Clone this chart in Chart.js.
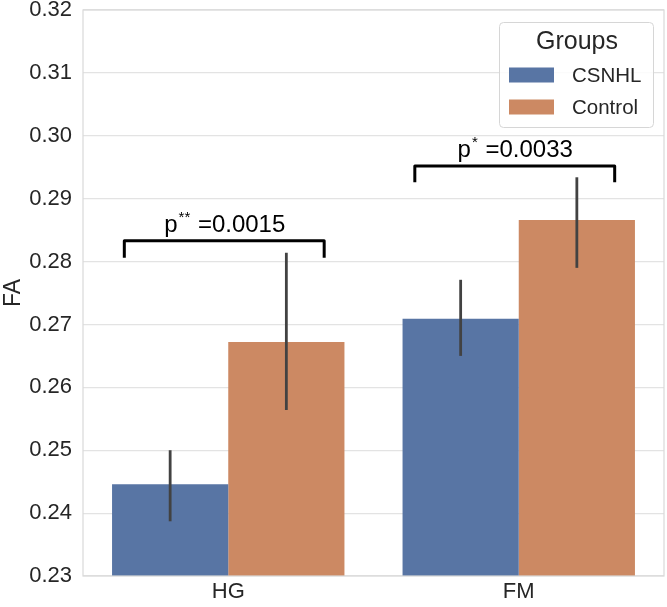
<!DOCTYPE html>
<html>
<head>
<meta charset="utf-8">
<script src="https://cdn.jsdelivr.net/npm/chart.js@4/dist/chart.umd.min.js"></script>
<style>
  html, body { margin: 0; padding: 0; background: #fff; }
  #wrap { width: 667px; height: 607px; position: relative; }
</style>
</head>
<body>
<div id="wrap"><canvas id="chart"></canvas></div>
<script>
// Data
const regions = ['HG', 'FM'];
const groups = ['CSNHL', 'Control'];
const csnhlMean = [0.2446, 0.2709];
const csnhlLow = [0.2387, 0.2650];
const csnhlHigh = [0.2500, 0.2771];
const controlMean = [0.2672, 0.2866];
const controlLow = [0.2564, 0.2790];
const controlHigh = [0.2814, 0.2934];
const pStars = ['**', '*'];
const pValues = ['0.0015', '0.0033'];
const bracketTop = [0.2833, 0.2952];
const bracketFoot = [0.2806, 0.2926];
const yTicks = [0.23, 0.24, 0.25, 0.26, 0.27, 0.28, 0.29, 0.30, 0.31, 0.32];

const colors = ['#5875a4', '#cc8963'];
const errLows = [csnhlLow, controlLow];
const errHighs = [csnhlHigh, controlHigh];
const FONT = '"Liberation Sans", Arial, sans-serif';
const EDGE = '#d9d9d9';

const frame = {
    id: 'frame',
    afterDraw(chart) {
        const a = chart.chartArea;
        const ctx = chart.ctx;
        ctx.save();
        ctx.strokeStyle = EDGE;
        ctx.lineWidth = 1.2;
        ctx.strokeRect(a.left, a.top, a.right - a.left, a.bottom - a.top);
        ctx.restore();
    }
};

const errorBars = {
    id: 'errorBars',
    afterDatasetsDraw(chart) {
        const ctx = chart.ctx;
        const y = chart.scales.y;
        ctx.save();
        ctx.strokeStyle = '#424242';
        ctx.lineWidth = 2.8;
        chart.data.datasets.forEach((ds, di) => {
            const meta = chart.getDatasetMeta(di);
            meta.data.forEach((bar, i) => {
                ctx.beginPath();
                ctx.moveTo(bar.x, y.getPixelForValue(errLows[di][i]));
                ctx.lineTo(bar.x, y.getPixelForValue(errHighs[di][i]));
                ctx.stroke();
            });
        });
        ctx.restore();
    }
};

const brackets = {
    id: 'brackets',
    afterDatasetsDraw(chart) {
        const ctx = chart.ctx;
        const x = chart.scales.x, y = chart.scales.y;
        const catW = (chart.chartArea.right - chart.chartArea.left) / regions.length;
        ctx.save();
        regions.forEach((r, i) => {
            const cx = x.getPixelForValue(i) - 4;
            const half = catW * 0.344;
            const top = y.getPixelForValue(bracketTop[i]);
            const foot = y.getPixelForValue(bracketFoot[i]);
            ctx.strokeStyle = '#000';
            ctx.lineWidth = 3;
            ctx.lineJoin = 'round';
            ctx.beginPath();
            ctx.moveTo(cx - half, foot);
            ctx.lineTo(cx - half, top);
            ctx.lineTo(cx + half, top);
            ctx.lineTo(cx + half, foot);
            ctx.stroke();

            // p label with superscript stars
            const mainFont = '24px ' + FONT;
            const supFont = '15px ' + FONT;
            ctx.font = mainFont;
            const wP = ctx.measureText('p').width;
            const rest = ' =' + pValues[i];
            const wR = ctx.measureText(rest).width;
            ctx.font = supFont;
            const wS = ctx.measureText(pStars[i]).width + 1;
            let tx = cx - (wP + wS + wR) / 2;
            const base = top - 9;
            ctx.fillStyle = '#000';
            ctx.textBaseline = 'alphabetic';
            ctx.textAlign = 'left';
            ctx.font = mainFont;
            ctx.fillText('p', tx, base);
            tx += wP + 1;
            ctx.font = supFont;
            ctx.fillText(pStars[i], tx, base - 10);
            tx += wS;
            ctx.font = mainFont;
            ctx.fillText(rest, tx, base);
        });
        ctx.restore();
    }
};

const boxLegend = {
    id: 'boxLegend',
    afterDraw(chart) {
        const ctx = chart.ctx;
        const bx = 499, by = 22, bw = 154, bh = 105;
        ctx.save();
        ctx.fillStyle = 'rgba(255,255,255,0.85)';
        ctx.strokeStyle = '#d6d6d6';
        ctx.lineWidth = 1;
        ctx.beginPath();
        ctx.roundRect(bx + 0.5, by + 0.5, bw, bh, 4);
        ctx.fill();
        ctx.stroke();
        ctx.fillStyle = '#262626';
        ctx.textAlign = 'center';
        ctx.textBaseline = 'middle';
        ctx.font = '25px ' + FONT;
        ctx.fillText('Groups', bx + bw / 2 + 1, by + 20);
        ctx.textAlign = 'left';
        ctx.font = '20.5px ' + FONT;
        groups.forEach((g, i) => {
            const cy = by + 53 + i * 32;
            ctx.fillStyle = colors[i];
            ctx.fillRect(bx + 10, cy - 7.5, 45, 15);
            ctx.fillStyle = '#262626';
            ctx.fillText(g, bx + 73, cy + 1);
        });
        ctx.restore();
    }
};

new Chart(document.getElementById('chart'), {
    type: 'bar',
    data: {
        labels: regions,
        datasets: [
            { label: groups[0], data: csnhlMean, backgroundColor: colors[0] },
            { label: groups[1], data: controlMean, backgroundColor: colors[1] }
        ]
    },
    options: {
        responsive: true, maintainAspectRatio: false, animation: false,
        layout: { padding: { top: 10, right: 3, left: 0, bottom: 0 } },
        categoryPercentage: 0.8, barPercentage: 1.0,
        plugins: { legend: { display: false }, tooltip: { enabled: false } },
        scales: {
            x: {
                grid: { display: false, drawTicks: false },
                border: { display: false },
                ticks: { font: { family: FONT, size: 22 }, color: '#262626', padding: 3 },
                afterFit: (s) => { s.height = 31; s.paddingLeft = 0; s.paddingRight = 0; }
            },
            y: {
                min: 0.23, max: 0.32,
                afterBuildTicks: (s) => { s.ticks = yTicks.map(v => ({ value: v })); },
                grid: { color: '#e3e3e3', lineWidth: 1.2, drawTicks: false },
                border: { display: false },
                ticks: {
                    font: { family: FONT, size: 22 }, color: '#262626', padding: 11,
                    callback: (v) => Number(v).toFixed(2)
                },
                title: { display: true, text: 'FA', font: { family: FONT, size: 23 }, color: '#262626', padding: 0 },
                afterFit: (s) => { s.width = 83; s.paddingTop = 0; s.paddingBottom = 0; }
            }
        }
    },
    plugins: [errorBars, brackets, frame, boxLegend]
});
</script>
</body>
</html>
